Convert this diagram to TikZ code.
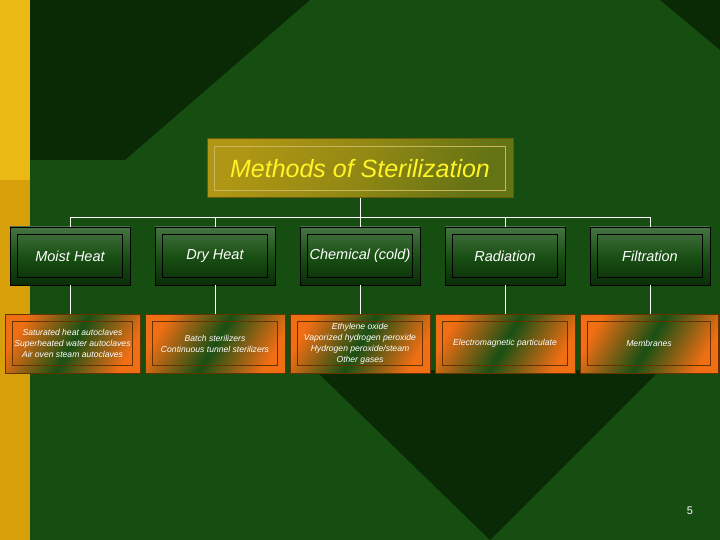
\documentclass[tikz,border=0pt]{standalone}
\usepackage{fontspec}
\setmainfont{Liberation Sans}
\definecolor{bgmid}{RGB}{22,78,18}
\definecolor{bgdark}{RGB}{10,42,6}
\definecolor{goldA}{RGB}{235,185,20}
\definecolor{goldB}{RGB}{215,160,10}
\definecolor{orA}{RGB}{240,110,20}
\definecolor{grA}{RGB}{25,80,20}
\definecolor{grB}{RGB}{10,45,8}
\definecolor{tgold}{RGB}{175,150,20}
\begin{document}
\begin{tikzpicture}[x=1pt,y=-1pt,
 lvltwo/.style={draw=black,line width=0.8pt,top color=grA!80!white,bottom color=grB,middle color=grA},
 lvlthree/.style={draw=orange!40!black,line width=0.8pt,left color=orA,right color=orA,middle color=grA,shading angle=60},
 conn/.style={draw=white,line width=0.7pt},
 txt/.style={text=white,align=center}]
\useasboundingbox (0,0) rectangle (720,540);
\fill[bgmid] (0,0) rectangle (720,540);
\fill[bgdark] (30,0) -- (310,0) -- (125,160) -- (30,160) -- cycle;
\fill[bgdark] (660,0) -- (720,0) -- (720,50) -- cycle;
\fill[bgdark] (315,370) -- (660,370) -- (490,540) -- cycle;
\fill[goldA] (0,0) rectangle (30,180);
\fill[goldB] (0,180) rectangle (30,540);
\foreach \i/\x in {1/70,2/215,3/360,4/505,5/650}{
  \coordinate (t\i) at (\x,217);
}
\coordinate (bar) at (360,217);
\draw[conn] (t1) -- (t5);
% title
\node[draw=tgold!60!black,line width=1pt,minimum width=306pt,minimum height=59pt,inner sep=0pt,
  left color=tgold,right color=tgold!50!grA,middle color=tgold!80!grA,shading angle=60,
  text=yellow!85!white,font=\itshape\fontsize{25}{28}\selectfont] (title) at (360,168.5) {Methods of Sterilization};
\draw[tgold!70!white,line width=0.6pt] ([shift={(8,-8)}]title.south west) rectangle ([shift={(-8,8)}]title.north east);
\draw[conn] (title.south) -- (bar);
% level 2
\foreach \i/\x/\t in {1/70/Moist Heat,2/215/Dry Heat,3/360/Chemical (cold),4/505/Radiation,5/650/Filtration}{
  \node[lvltwo,minimum width=120pt,minimum height=58pt,inner sep=1pt,txt,font=\itshape\fontsize{14.5}{17}\selectfont] (m\i) at (\x,256) {\t};
  \draw[black,line width=0.6pt] ([shift={(8,-8)}]m\i.south west) rectangle ([shift={(-8,8)}]m\i.north east);
  \draw[conn] (t\i) -- (m\i.north);
}
% level 3
\foreach \i/\x/\w/\t in {1/72.5/135/{Saturated heat autoclaves\\Superheated water autoclaves\\Air oven steam autoclaves},
  2/215/140/{Batch sterilizers\\Continuous tunnel sterilizers},
  3/360/140/{Ethylene oxide\\Vaporized hydrogen peroxide\\Hydrogen peroxide/steam\\Other gases},
  4/505/140/{Electromagnetic particulate},
  5/649/138/{Membranes}}{
  \node[lvlthree,minimum width=\w pt,minimum height=59pt,txt,font=\itshape\fontsize{8.6}{11}\selectfont,inner sep=0pt] (b\i) at (\x,343.5) {\t};
  \draw[orange!40!black,line width=0.6pt] ([shift={(8,-8)}]b\i.south west) rectangle ([shift={(-8,8)}]b\i.north east);
  \draw[conn] (m\i.south) -- (m\i.south |- b\i.north);
}
\node[text=white,font=\fontsize{11}{13}\selectfont] (pg) at (690,511) {5};
\end{tikzpicture}
\end{document}
